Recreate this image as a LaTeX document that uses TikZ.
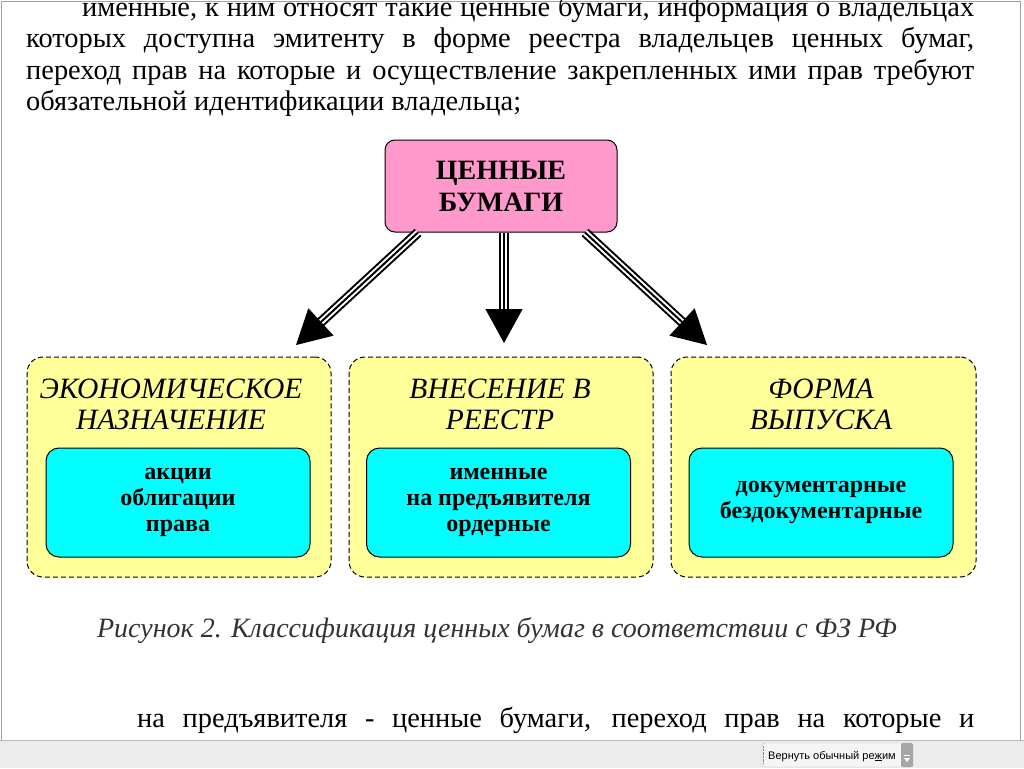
\documentclass[tikz,border=0pt]{standalone}
\usepackage{fontspec}
\setmainfont{Liberation Serif}
\newfontfamily\uifont{Liberation Sans}
\usetikzlibrary{arrows.meta,calc}
\definecolor{mainpink}{HTML}{FF99CC}
\definecolor{groupyellow}{HTML}{FFFF99}
\definecolor{itemcyan}{HTML}{00FFFF}
\definecolor{framegray}{HTML}{A0A0A0}
\definecolor{bargray}{HTML}{ECECEC}

\begin{document}
\begin{tikzpicture}[x=1pt,y=-1pt,
		bodyline/.style={anchor=base west,inner sep=0pt,font=\fontsize{28.4}{31}\selectfont},
		mainbox/.style={draw,line width=1pt,fill=mainpink,rounded corners=10pt,minimum width=232pt,minimum height=92pt,align=center,font=\fontsize{28}{32}\selectfont\bfseries},
		groupbox/.style={draw,dash pattern=on 5pt off 3pt,line width=1pt,fill=groupyellow,rounded corners=16pt,minimum height=220pt},
		grouptitle/.style={anchor=north,inner sep=0pt,align=center,font=\fontsize{29.5}{31}\selectfont\itshape},
		itembox/.style={draw,line width=1pt,fill=itemcyan,rounded corners=13pt,minimum width=264pt,minimum height=109pt,align=center,font=\fontsize{24}{26}\selectfont\bfseries},
		tripleline/.style={line width=10pt,postaction={draw=white,line width=6pt},postaction={draw=black,line width=2pt}},
		bighead/.style={-{Triangle[length=34pt,width=37pt]},line width=1pt}]
		\useasboundingbox (0,0) rectangle (1024,768);
		% page
		\draw[framegray] (1,740) -- (1,1) -- (1020,1) -- (1020,740);
		\node[bodyline] (l1) at (82,17) {\makebox[892pt][s]{именные, к ним относят такие ценные бумаги, информация о владельцах}};
		\node[bodyline] (l2) at (26,48) {\makebox[948pt][s]{которых доступна эмитенту в форме реестра владельцев ценных бумаг,}};
		\node[bodyline] (l3) at (26,79) {\makebox[948pt][s]{переход прав на которые и осуществление закрепленных ими прав требуют}};
		\node[bodyline] (l4) at (26,110) {обязательной идентификации владельца;};

		\node[mainbox] (cb) at (501,186) {ЦЕННЫЕ\\БУМАГИ};

		\node[groupbox,minimum width=304pt] (econ) at (179,467) {};
		\node[groupbox,minimum width=304pt] (reg) at (501,467) {};
		\node[groupbox,minimum width=305pt] (form) at (823.5,467) {};
		\node[grouptitle] (econt) at (171,379) {ЭКОНОМИЧЕСКОЕ\\НАЗНАЧЕНИЕ};
		\node[grouptitle] (regt) at (500,379) {ВНЕСЕНИЕ В\\РЕЕСТР};
		\node[grouptitle] (formt) at (821,379) {ФОРМА\\ВЫПУСКА};
		\node[itembox] (econi) at (178,502.5) {акции\\облигации\\права};
		\node[itembox] (regi) at (498.5,502.5) {именные\\на предъявителя\\ордерные};
		\node[itembox] (formi) at (821,502.5) {документарные\\бездокументарные};

		\coordinate (sl) at ([xshift=-83pt]cb.south);
		\coordinate (sm) at ([xshift=3pt]cb.south);
		\coordinate (sr) at ([xshift=84pt]cb.south);
		\coordinate (tl) at (296,345);
		\coordinate (tm) at (504,343);
		\coordinate (tr) at (707,345);
		\foreach \s/\t in {sl/tl,sm/tm,sr/tr}{
			\draw[tripleline] (\s) -- ($(\t)!30pt!(\s)$);
			\draw[bighead] ($(\t)!34pt!(\s)$) -- (\t);
		}

		\node[anchor=base,inner sep=0pt,text=black!80,font=\fontsize{28}{31}\selectfont\itshape] (cap) at (497,637) {Рисунок 2. Классификация ценных бумаг в соответствии с ФЗ РФ};

		\node[bodyline] (l5) at (137,727) {\makebox[837pt][s]{на предъявителя - ценные бумаги, переход прав на которые и}};

		% status bar
		\fill[bargray] (0,740) rectangle (1024,768);
		\draw[framegray!70] (0,740) -- (1024,740);
		\draw[black!25,fill=white!96!black,rounded corners=3pt] (762,743) rectangle (913,767);
		\fill[black!35,rounded corners=2pt] (901,743) rectangle (913,767);
		\draw[black!50,densely dotted] (763,746) -- (763,764);
		\node[anchor=base west,inner sep=0pt,font=\uifont\fontsize{11}{13}\selectfont] (btn) at (768,759) {Вернуть обычный ре\underline{ж}им};
		\fill[white] (904,758) -- (910,758) -- (907,762) -- cycle;
		\draw[white] (904,755) -- (910,755);
	\end{tikzpicture}
\end{document}
